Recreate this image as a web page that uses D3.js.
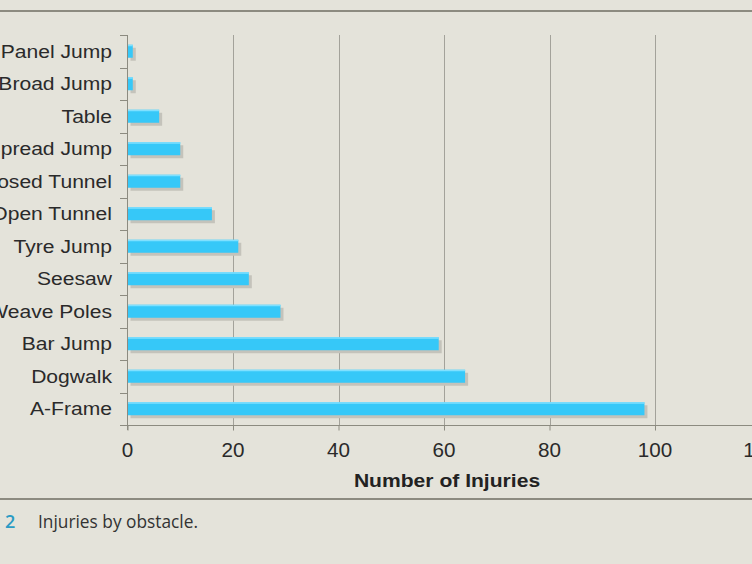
<!DOCTYPE html>
<html>
<head>
<meta charset="utf-8">
<script src="https://cdn.jsdelivr.net/npm/d3@7"></script>
<style>
  html, body { margin: 0; padding: 0; background: #e4e3da; }
  svg { display: block; }
</style>
</head>
<body>
<svg id="chart" width="752" height="564"></svg>
<script>
const categories = ["Panel Jump", "Broad Jump", "Table", "Spread Jump", "Closed Tunnel", "Open Tunnel",
                    "Tyre Jump", "Seesaw", "Weave Poles", "Bar Jump", "Dogwalk", "A-Frame"];
const injuries = [1, 1, 6, 10, 10, 16, 21, 23, 29, 59, 64, 98];
const xTicks = [0, 20, 40, 60, 80, 100, 120];
const xTitle = "Number of Injuries";
const captionNum = "2";
const captionText = "Injuries by obstacle.";

const svg = d3.select("#chart");
const W = 752, H = 564;
const FONT = "Liberation Sans, Arial, sans-serif";

svg.append("rect").attr("width", W).attr("height", H).attr("fill", "#e4e3da");

// frame lines
svg.append("line").attr("x1", 0).attr("x2", W).attr("y1", 11).attr("y2", 11)
  .attr("stroke", "#8c8b80").attr("stroke-width", 2);
svg.append("line").attr("x1", 0).attr("x2", W).attr("y1", 499).attr("y2", 499)
  .attr("stroke", "#8c8b80").attr("stroke-width", 2);

const x = d3.scaleLinear().domain([0, 120]).range([127.5, 760.5]);
const y = d3.scaleBand().domain(categories).range([35, 425]).paddingInner(0.6).paddingOuter(0.3);
const yb = d3.scaleBand().domain(categories).range([35, 425]);

// gridlines
svg.append("g").selectAll("line").data(xTicks.filter(d => d > 0)).join("line")
  .attr("x1", d => Math.round(x(d)) + 0.5).attr("x2", d => Math.round(x(d)) + 0.5)
  .attr("y1", 35).attr("y2", 425)
  .attr("stroke", "#a3a29a").attr("stroke-width", 1);

// shadows
svg.append("g").selectAll("rect").data(categories).join("rect")
  .attr("x", x(0) + 3)
  .attr("y", d => y(d) + 3)
  .attr("width", (d, i) => x(injuries[i]) - x(0))
  .attr("height", y.bandwidth())
  .attr("fill", "#c4c3bb");

// bars
svg.append("g").selectAll("rect").data(categories).join("rect")
  .attr("x", x(0))
  .attr("y", d => y(d))
  .attr("width", (d, i) => x(injuries[i]) - x(0))
  .attr("height", y.bandwidth())
  .attr("fill", "#36c8f8");
svg.append("g").selectAll("rect").data(categories).join("rect")
  .attr("x", x(0))
  .attr("y", d => y(d))
  .attr("width", (d, i) => x(injuries[i]) - x(0))
  .attr("height", 1.5)
  .attr("fill", "#7fe0ff");

// x axis
const xAxis = d3.axisBottom(x).tickValues(xTicks).tickSize(5).tickPadding(10).tickSizeOuter(0).tickFormat(() => "");
const gx = svg.append("g").attr("transform", "translate(0,425.5)").call(xAxis);
gx.select(".domain").attr("d", `M${x(0)},0H${W}`).attr("stroke", "#8c8b80");
gx.selectAll(".tick line").attr("stroke", "#8c8b80");

// x tick labels (slightly stretched horizontally like the reference)
svg.append("g").selectAll("text").data(xTicks).join("text")
  .attr("transform", d => `translate(${x(d)},457) scale(1.06,1)`)
  .attr("text-anchor", "middle")
  .attr("font-family", FONT).attr("font-size", 19.5).attr("fill", "#2a2a2a")
  .text(d => d);

// y axis ticks at band boundaries
const yAxisG = svg.append("g");
yAxisG.append("line").attr("x1", 127.5).attr("x2", 127.5).attr("y1", 35).attr("y2", 430)
  .attr("stroke", "#8c8b80");
const bounds = categories.map(c => yb(c)).concat([425]);
yAxisG.selectAll("line.tk").data(bounds).join("line").attr("class", "tk")
  .attr("x1", 120).attr("x2", 127.5)
  .attr("y1", d => Math.round(d) + 0.5).attr("y2", d => Math.round(d) + 0.5)
  .attr("stroke", "#8c8b80");

yAxisG.selectAll("text").data(categories).join("text")
  .attr("transform", d => `translate(112,${yb(d) + yb.bandwidth() / 2}) scale(1.14,1)`)
  .attr("dy", "0.35em")
  .attr("text-anchor", "end")
  .attr("font-family", FONT)
  .attr("font-size", 18.5)
  .attr("fill", "#2a2a2a")
  .text(d => d);

// x title
svg.append("text")
  .attr("transform", `translate(447,487) scale(1.11,1)`)
  .attr("text-anchor", "middle")
  .attr("font-family", FONT)
  .attr("font-weight", "bold").attr("font-size", 19)
  .attr("fill", "#222").text(xTitle);

// caption
svg.append("text").attr("x", 5).attr("y", 528)
  .attr("font-family", "Open Sans, Noto Sans, sans-serif").attr("font-size", 18)
  .attr("font-weight", "600")
  .attr("fill", "#2a9bc4").text(captionNum);
svg.append("text").attr("x", 38).attr("y", 528)
  .attr("font-family", "Open Sans, Noto Sans, sans-serif").attr("font-size", 17.5)
  .attr("textLength", 160).attr("lengthAdjust", "spacingAndGlyphs")
  .attr("fill", "#333333").text(captionText);
</script>
</body>
</html>
